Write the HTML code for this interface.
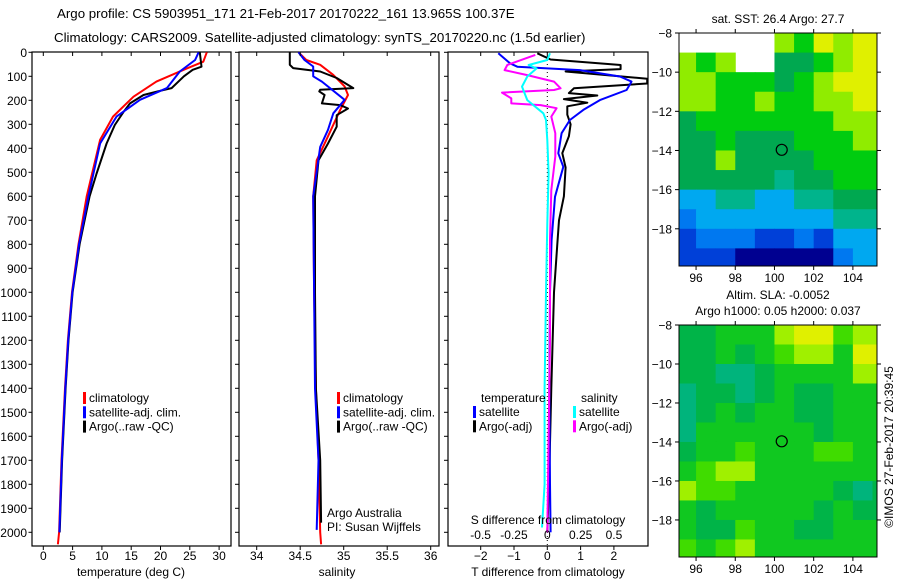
<!DOCTYPE html>
<html><head><meta charset="utf-8"><style>
body{margin:0;background:#fff;}
svg{display:block;font-family:"Liberation Sans",Arial,sans-serif;}
</style></head><body>
<svg id="c" width="900" height="580" xmlns="http://www.w3.org/2000/svg"></svg>
<script>
// ---------- data ----------
const depthTicks=[0,100,200,300,400,500,600,700,800,900,1000,1100,1200,1300,1400,1500,1600,1700,1800,1900,2000];
const tempTicks=[0,5,10,15,20,25,30];
const salTicks=[34,34.5,35,35.5,36];
const salTickLabels=["34","34.5","35","35.5","36"];
const tdTicks=[-2,-1,0,1,2];
const sdTicks=[-0.5,-0.25,0,0.25,0.5];
const sdTickLabels=["-0.5","-0.25","0","0.25","0.5"];
// temperature profiles
const tClimD=[0,39,67,122,185,268,365,600,800,1000,1200,1400,1700,2000,2050];
const tClimV=[27.9,27.3,24.5,19.3,15.4,11.9,9.7,7.4,6.0,4.9,4.2,3.7,3.1,2.7,2.5];
const tSatD=[0,32,80,149,198,268,380,600,800,1000,1200,1400,1700,2000];
const tSatV=[26.5,25.9,23.3,21.1,16.5,12.5,9.7,7.7,6.1,4.95,4.25,3.75,3.15,2.75];
const tArgD=[0,60,73,100,149,164,178,213,248,303,380,505,600,800,1000,1200,1400,1700,2000];
const tArgV=[26.7,27.0,25.5,24.0,21.9,19.3,17.1,14.8,13.7,12.2,10.8,9.1,7.9,6.2,5.0,4.3,3.8,3.2,2.8];
// salinity profiles
const sClimD=[0,32,52,94,142,178,240,365,450,600,1000,1400,1700,2000,2050];
const sClimV=[34.48,34.57,34.73,34.88,35.01,35.05,34.96,34.80,34.69,34.65,34.66,34.68,34.71,34.73,34.74];
const sSatD=[0,32,59,100,122,198,254,323,394,600,1000,1400,1700,1990];
const sSatV=[34.48,34.55,34.65,34.65,34.75,35.01,34.88,34.82,34.73,34.65,34.66,34.67,34.71,34.69];
const sArgD=[0,52,66,80,107,149,156,163,178,213,220,234,262,310,380,450,600,1000,1400,1700,1960];
const sArgV=[34.38,34.38,34.42,34.73,34.92,35.11,34.73,34.72,34.78,34.75,34.96,35.05,34.92,34.92,34.82,34.71,34.67,34.67,34.68,34.73,34.74];
// difference profiles
const dtSatD=[4,46,60,74,101,122,157,199,240,282,337,421,477,602,782,1000,1400,1800,2000];
const dtSatV=[-1.47,-1.12,-0.9,0.98,2.18,2.53,2.38,1.58,1.08,0.68,0.43,0.33,0.48,0.23,0.13,0.08,0.06,0.08,0.1];
const dtArgD=[4,30,53,70,80,110,130,150,170,180,195,210,225,260,300,350,420,480,600,700,800,1000,1400,1800,2000];
const dtArgV=[-0.3,0.1,2.2,2.2,0.55,3.0,3.0,0.8,0.65,1.5,0.5,1.2,0.6,0.6,0.7,0.65,0.45,0.55,0.5,0.35,0.3,0.2,0.12,0.05,0.0];
const dsArgD=[11,53,74,95,122,150,157,168,192,213,220,233,268,337,434,574,782,1200,1600,2000];
const dsArgV=[-0.09,-0.30,-0.32,-0.15,0.05,0.10,0.05,-0.34,-0.27,-0.27,-0.05,0.07,0.03,0.06,0.06,0.03,0.02,0.02,0.01,0.0];
const dsSatD=[4,32,53,67,101,143,199,254,282,365,504,713,1000,1400,1800,1980];
const dsSatV=[0.02,0.0,-0.14,-0.08,-0.15,-0.19,-0.15,-0.03,-0.01,0.0,0.01,0.0,-0.01,-0.02,-0.02,-0.04];
// maps (1-degree cells, lat -8 .. -20 rows, lon 95..105 cols)
const mapLons=[95,96,97,98,99,100,101,102,103,104,105];
const mapLats=[-8,-9,-10,-11,-12,-13,-14,-15,-16,-17,-18,-19];
const sstGrid=[
[-1,-1,-1,-1,-1,7,6,8,7,8,8],
[7,6,7,-1,-1,5,5,6,7,8,8],
[7,7,6,6,6,5,6,7,8,8,8],
[7,7,6,6,7,6,6,7,7,8,8],
[5,6,6,6,6,6,6,6,7,7,7],
[5,5,6,5,5,5,6,6,6,7,7],
[5,5,7,5,5,5,5,6,6,6,6],
[5,5,5,5,5,4,5,5,6,6,6],
[3,3,4,4,3,3,4,4,5,5,5],
[2,3,3,3,3,3,3,3,4,4,4],
[1,2,2,2,1,1,2,1,3,3,3],
[1,1,1,0,0,0,0,0,2,3,3]];
const sstColors=["#000090","#0040d8","#0078f0","#00a8f0","#00b48c","#00a850","#00cc10","#90ec00","#e0f000"];
const slaGrid=[
[1,1,2,2,2,4,5,5,3,4,4],
[1,1,2,1,2,3,4,4,2,5,5],
[1,1,0,0,1,2,2,2,2,4,4],
[0,1,1,0,1,2,1,1,2,2,2],
[0,1,2,1,2,2,1,1,2,2,2],
[0,2,2,2,2,2,2,1,2,2,2],
[1,2,2,3,2,2,2,3,3,2,2],
[2,3,4,4,2,2,2,2,2,2,2],
[4,3,3,2,2,2,2,2,1,0,1],
[2,1,2,2,2,2,2,1,2,1,1],
[2,1,1,3,2,2,1,1,2,2,2],
[3,2,3,4,2,2,2,2,2,2,2]];
const slaColors=["#00b47c","#00b448","#10c820","#40dc00","#a0f000","#e0f000"];

// ---------- helpers ----------
const NS="http://www.w3.org/2000/svg";
const svg=document.getElementById('c');
function mk(tag,attrs,parent){const e=document.createElementNS(NS,tag);for(const k in attrs)e.setAttribute(k,attrs[k]);(parent||svg).appendChild(e);return e;}
function txt(x,y,s,anchor,size,parent){const t=mk('text',{x:x,y:y,'text-anchor':anchor||'middle','font-size':size||12,fill:'#000'},parent);t.textContent=s;return t;}
const Y0=52.3, YS=0.24; // depth scale
const yD=d=>Y0+d*YS;
const xT=t=>43.3+t*5.86;
const xS=s=>256.7+(s-34)*87;
const xDT=t=>547.3+t*33.3;
const xDS=s=>547.3+s*133.3;
const PY0=52,PY1=546;

function panel(x0,x1,name){
  const g=mk('g',{});
  
  
  mk('rect',{x:x0,y:PY0,width:x1-x0,height:PY1-PY0,fill:'none',stroke:'#000','stroke-width':1.2},g);
  return g;
}
function line(g,ds,vs,xf,col,w,name,clipId){
  const pts=ds.map((d,i)=>xf(vs[i]).toFixed(1)+','+yD(d).toFixed(1)).join(' ');
  const p=mk('polyline',{points:pts,fill:'none',stroke:col,'stroke-width':w||2,'stroke-linejoin':'round'},g);
  if(clipId)p.setAttribute('clip-path','url(#'+clipId+')');
  
  
}
function xticks(g,vals,labels,xf,y,size){
  vals.forEach((v,i)=>{
    const x=xf(v);
    mk('line',{x1:x,y1:PY1,x2:x,y2:PY1+4,stroke:'#000'},g);
    mk('line',{x1:x,y1:PY0,x2:x,y2:PY0+4,stroke:'#000'},g);
    const t=txt(x,y,labels?labels[i]:String(v),'middle',size||12,g);
    
    
  });
}
function legend(g,x,y,items){
  items.forEach((it,i)=>{
    mk('rect',{x:x,y:y+i*14.3-10,width:3,height:12,fill:it[1]},g);
    const t=txt(x+6,y+i*14.3,it[0],'start',12,g);
    
    
  });
}
const defs=mk('defs',{});
const cp=mk('clipPath',{id:'clip3'},defs);
mk('rect',{x:448,y:52,width:200,height:494},cp);

// ---------- titles ----------
let t=txt(57,18,'Argo profile: CS 5903951_171 21-Feb-2017 20170222_161 13.965S 100.37E','start',13.3);

t=txt(54,42,'Climatology: CARS2009. Satellite-adjusted climatology: synTS_20170220.nc (1.5d earlier)','start',13.3);


// ---------- depth axis ----------
const ya=mk('g',{});


depthTicks.forEach(d=>{
  mk('line',{x1:28.5,y1:yD(d),x2:32,y2:yD(d),stroke:'#000'},ya);
  [239,448].forEach(px=>mk('line',{x1:px-4,y1:yD(d),x2:px,y2:yD(d),stroke:'#000'},ya));
  const tt=txt(27,yD(d)+4.5,String(d),'end',12,ya);
  
});

// ---------- panel 1 temperature ----------
const p1=panel(32,231,'temperature-panel');
line(p1,tClimD,tClimV,xT,'#f00',2,'temp-climatology-line');
line(p1,tArgD,tArgV,xT,'#000',2,'temp-argo-line');
line(p1,tSatD,tSatV,xT,'#00f',2,'temp-satellite-line');
xticks(p1,tempTicks,null,xT,560);
t=txt(131,576,'temperature (deg C)','middle',12,p1);
legend(p1,83,402,[['climatology','#f00'],['satellite-adj. clim.','#00f'],['Argo(..raw -QC)','#000']]);

// ---------- panel 2 salinity ----------
const p2=panel(239,439,'salinity-panel');
line(p2,sClimD,sClimV,xS,'#f00',2,'sal-climatology-line');
line(p2,sArgD,sArgV,xS,'#000',2,'sal-argo-line');
line(p2,sSatD,sSatV,xS,'#00f',2,'sal-satellite-line');
xticks(p2,salTicks,salTickLabels,xS,560);
t=txt(337,576,'salinity','middle',12,p2);
legend(p2,337,402,[['climatology','#f00'],['satellite-adj. clim.','#00f'],['Argo(..raw -QC)','#000']]);
t=txt(327,517,'Argo Australia','start',12,p2);
t=txt(327,531,'PI: Susan Wijffels','start',12,p2);

// ---------- panel 3 differences ----------
const p3=panel(448,648,'difference-panel');
mk('line',{x1:547.3,y1:PY0,x2:547.3,y2:PY1,stroke:'#000','stroke-dasharray':'1,3'},p3);
line(p3,dtArgD,dtArgV,xDT,'#000',2,'tdiff-argo-line','clip3');
line(p3,dtSatD,dtSatV,xDT,'#00f',2,'tdiff-satellite-line','clip3');
line(p3,dsArgD,dsArgV,xDS,'#f0f',2,'sdiff-argo-line','clip3');
line(p3,dsSatD,dsSatV,xDS,'#0ff',2,'sdiff-satellite-line','clip3');
tdTicks.forEach(v=>{const x=xDT(v);mk('line',{x1:x,y1:PY1,x2:x,y2:PY1+4,stroke:'#000'},p3);mk('line',{x1:x,y1:PY0,x2:x,y2:PY0+4,stroke:'#000'},p3);
  const tt=txt(x,560,String(v).replace('-','\u2212'),'middle',12,p3);});
sdTicks.forEach((v,i)=>{const tt=txt(xDS(v),539,sdTickLabels[i],'middle',12,p3);});
t=txt(548,524,'S difference from climatology','middle',12,p3);
t=txt(548,576,'T difference from climatology','middle',12,p3);
t=txt(481,402,'temperature','start',12,p3);
t=txt(581,402,'salinity','start',12,p3);
legend(p3,473,416,[['satellite','#00f'],['Argo(-adj)','#000']]);
legend(p3,573,416,[['satellite','#0ff'],['Argo(-adj)','#f0f']]);

// ---------- maps ----------
function drawMap(name,y0,y1,grid,colors,titleLines){
  const g=mk('g',{});
  
  
  const X0=679,X1=877,LON0=95.13,LON1=105.23,LAT0=-8,LATS=(y1-y0)/11.9;
  const xL=l=>X0+(l-LON0)*(X1-X0)/(LON1-LON0);
  const yL=l=>y0+(LAT0-l)*LATS;
  grid.forEach((row,r)=>row.forEach((v,c)=>{
    if(v<0)return;
    const xa=Math.max(X0,xL(mapLons[c])),xb=Math.min(X1,xL(mapLons[c]+1));
    const ya0=yL(mapLats[r]),yb=Math.min(y1,yL(mapLats[r]-1));
    const cell=mk('rect',{x:xa,y:ya0,width:xb-xa+0.5,height:yb-ya0+0.5,fill:colors[v]},g);
    
    
  }));
  mk('rect',{x:X0,y:y0,width:X1-X0,height:y1-y0,fill:'none',stroke:'#000'},g);
  [96,98,100,102,104].forEach(l=>{
    mk('line',{x1:xL(l),y1:y1,x2:xL(l),y2:y1+4,stroke:'#000'},g);
    mk('line',{x1:xL(l),y1:y0,x2:xL(l),y2:y0-4,stroke:'#000'},g);
    const tt=txt(xL(l),y1+16,String(l),'middle',12,g);
  });
  [-8,-10,-12,-14,-16,-18].forEach(l=>{
    mk('line',{x1:X0-4,y1:yL(l),x2:X0,y2:yL(l),stroke:'#000'},g);
    mk('line',{x1:X1,y1:yL(l),x2:X1+4,y2:yL(l),stroke:'#000'},g);
    const tt=txt(672,yL(l)+4.5,String(l).replace('-','\u2212'),'end',12,g);
  });
  const c=mk('circle',{cx:xL(100.37),cy:yL(-13.965),r:5.5,fill:'none',stroke:'#000','stroke-width':1.2},g);
  
  
  titleLines.forEach((s,i)=>{const tt=txt(778,titleLines.length===1?y0-10:y0-26+i*16,s,'middle',12,g);});
}
drawMap('sst-map',33,266,sstGrid,sstColors,['sat. SST: 26.4  Argo: 27.7']);
drawMap('sla-map',325,557,slaGrid,slaColors,['Altim. SLA: -0.0052','Argo h1000: 0.05 h2000: 0.037']);
t=txt(0,0,'\u00a9IMOS 27-Feb-2017 20:39:45','middle',12);
t.setAttribute('transform','translate(893,447) rotate(-90)');

</script>
</body></html>
